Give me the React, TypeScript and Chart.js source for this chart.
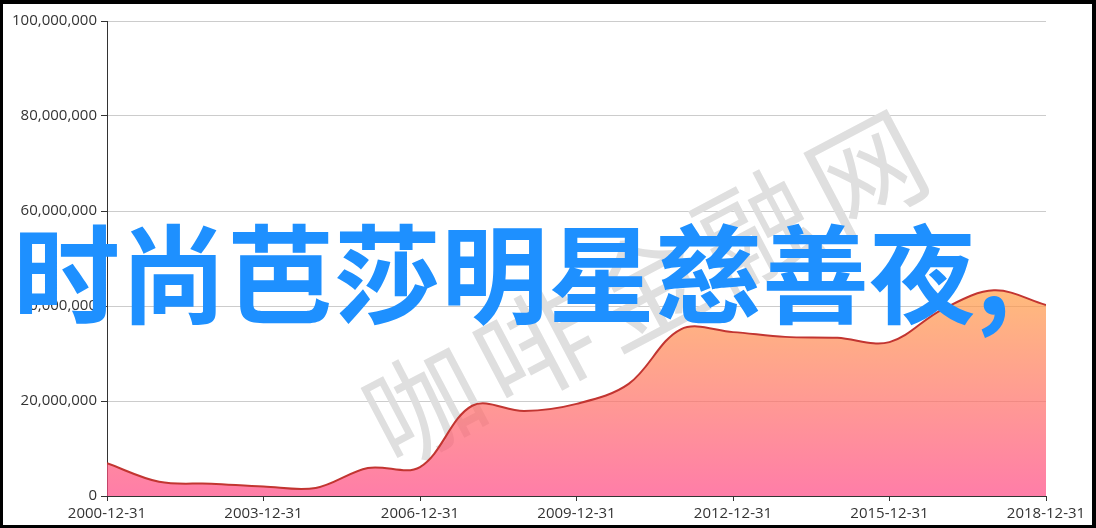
import React, { useEffect, useRef } from "react";
import { Chart, registerables } from "chart.js";

Chart.register(...registerables);

const dates = [
  "2000-12-31", "2001-12-31", "2002-12-31", "2003-12-31", "2004-12-31",
  "2005-12-31", "2006-12-31", "2007-12-31", "2008-12-31", "2009-12-31",
  "2010-12-31", "2011-12-31", "2012-12-31", "2013-12-31", "2014-12-31",
  "2015-12-31", "2016-12-31", "2017-12-31", "2018-12-31",
];

const values = [
  6900000, 3000000, 2600000, 2000000, 1700000,
  5900000, 6100000, 19000000, 17900000, 19400000,
  23600000, 35100000, 34500000, 33500000, 33300000,
  32400000, 39200000, 43300000, 40200000,
];

const xTickIndices = [0, 3, 6, 9, 12, 15, 18];
const yTicks = [0, 20000000, 40000000, 60000000, 80000000, 100000000];

const titleText = "时尚芭莎明星慈善夜,";
const watermarkChars = ["咖", "啡", "金", "融", "网"];

const FONT = "'Open Sans', 'Noto Sans', sans-serif";

export default function App() {
  const canvasRef = useRef<HTMLCanvasElement | null>(null);

  useEffect(() => {
    document.body.style.margin = "0";
    const canvas = canvasRef.current;
    if (!canvas) return;

    const watermark = {
      id: "watermark",
      beforeDatasetsDraw(chart: any) {
        const ctx = chart.ctx;
        ctx.save();
        ctx.translate(645, 288);
        ctx.rotate((-27.8 * Math.PI) / 180);
        ctx.fillStyle = "rgb(223,223,223)";
        ctx.font = "400 114px 'Noto Sans CJK SC'";
        ctx.textAlign = "center";
        ctx.textBaseline = "middle";
        const pitch = 125;
        watermarkChars.forEach((c, i) => {
          ctx.fillText(c, (i - 2) * pitch, 0);
        });
        ctx.restore();
      },
    };

    const chart = new Chart(canvas, {
      type: "line",
      data: {
        datasets: [
          {
            data: values.map((v, i) => ({ x: i, y: v })),
            borderColor: "#c23531",
            borderWidth: 2,
            pointRadius: 0,
            tension: 0.35,
            fill: "origin",
            backgroundColor: (c: any) => {
              const ch = c.chart;
              if (!ch.chartArea) return "rgba(255,120,140,0.7)";
              const y = ch.scales.y;
              const top = y.getPixelForValue(Math.max(...values));
              const bottom = y.getPixelForValue(0);
              const g = ch.ctx.createLinearGradient(0, top, 0, bottom);
              g.addColorStop(0, "rgba(255,158,68,0.7)");
              g.addColorStop(1, "rgba(255,70,131,0.7)");
              return g;
            },
          },
        ],
      },
      options: {
        animation: false,
        responsive: false,
        events: [],
        layout: { padding: { left: 0, top: 21, right: 50, bottom: 0 } },
        plugins: {
          legend: { display: false },
          tooltip: { enabled: false },
        },
        scales: {
          x: {
            type: "linear",
            min: 0,
            max: dates.length - 1,
            afterFit: (s: any) => {
              s.height = 32;
            },
            afterBuildTicks: (s: any) => {
              s.ticks = xTickIndices.map((v) => ({ value: v }));
            },
            ticks: {
              autoSkip: false,
              maxRotation: 0,
              padding: 4,
              color: "#333",
              font: { family: FONT, size: 15 },
              callback: (v: any) => dates[Number(v)] ?? "",
            },
            grid: {
              drawOnChartArea: false,
              drawTicks: true,
              tickLength: 5,
              tickColor: "#333",
            },
            border: { color: "#333", width: 1 },
          },
          y: {
            type: "linear",
            min: 0,
            max: 100000000,
            afterFit: (s: any) => {
              s.width = 107;
            },
            afterBuildTicks: (s: any) => {
              s.ticks = yTicks.map((v) => ({ value: v }));
            },
            ticks: {
              padding: 4,
              color: "#333",
              font: { family: FONT, size: 15 },
              callback: (v: any) => Number(v).toLocaleString("en-US"),
            },
            grid: {
              color: "#ccc",
              tickColor: "#333",
              tickLength: 6,
            },
            border: { color: "#333", width: 1 },
          },
        },
      },
      plugins: [watermark],
    } as any);

    return () => {
      chart.destroy();
    };
  }, []);

  return (
    <div style={{ position: "absolute", left: 0, top: 0, width: 1096, height: 528, background: "#fff" }}>
      <canvas ref={canvasRef} width={1096} height={528} style={{ display: "block", width: 1096, height: 528 }} />
      <div
        style={{
          position: "absolute",
          left: 13,
          top: 215,
          fontFamily: "'Noto Sans CJK SC', sans-serif",
          fontWeight: 700,
          fontSize: 107,
          lineHeight: 1,
          color: "rgb(30,144,255)",
          whiteSpace: "nowrap",
          pointerEvents: "none",
        }}
      >
        {titleText}
      </div>
      <div
        style={{
          position: "absolute",
          left: 0,
          top: 0,
          width: 1096,
          height: 528,
          boxSizing: "border-box",
          borderStyle: "solid",
          borderColor: "#000",
          borderWidth: "4px 4px 3px 3px",
          pointerEvents: "none",
        }}
      />
    </div>
  );
}
